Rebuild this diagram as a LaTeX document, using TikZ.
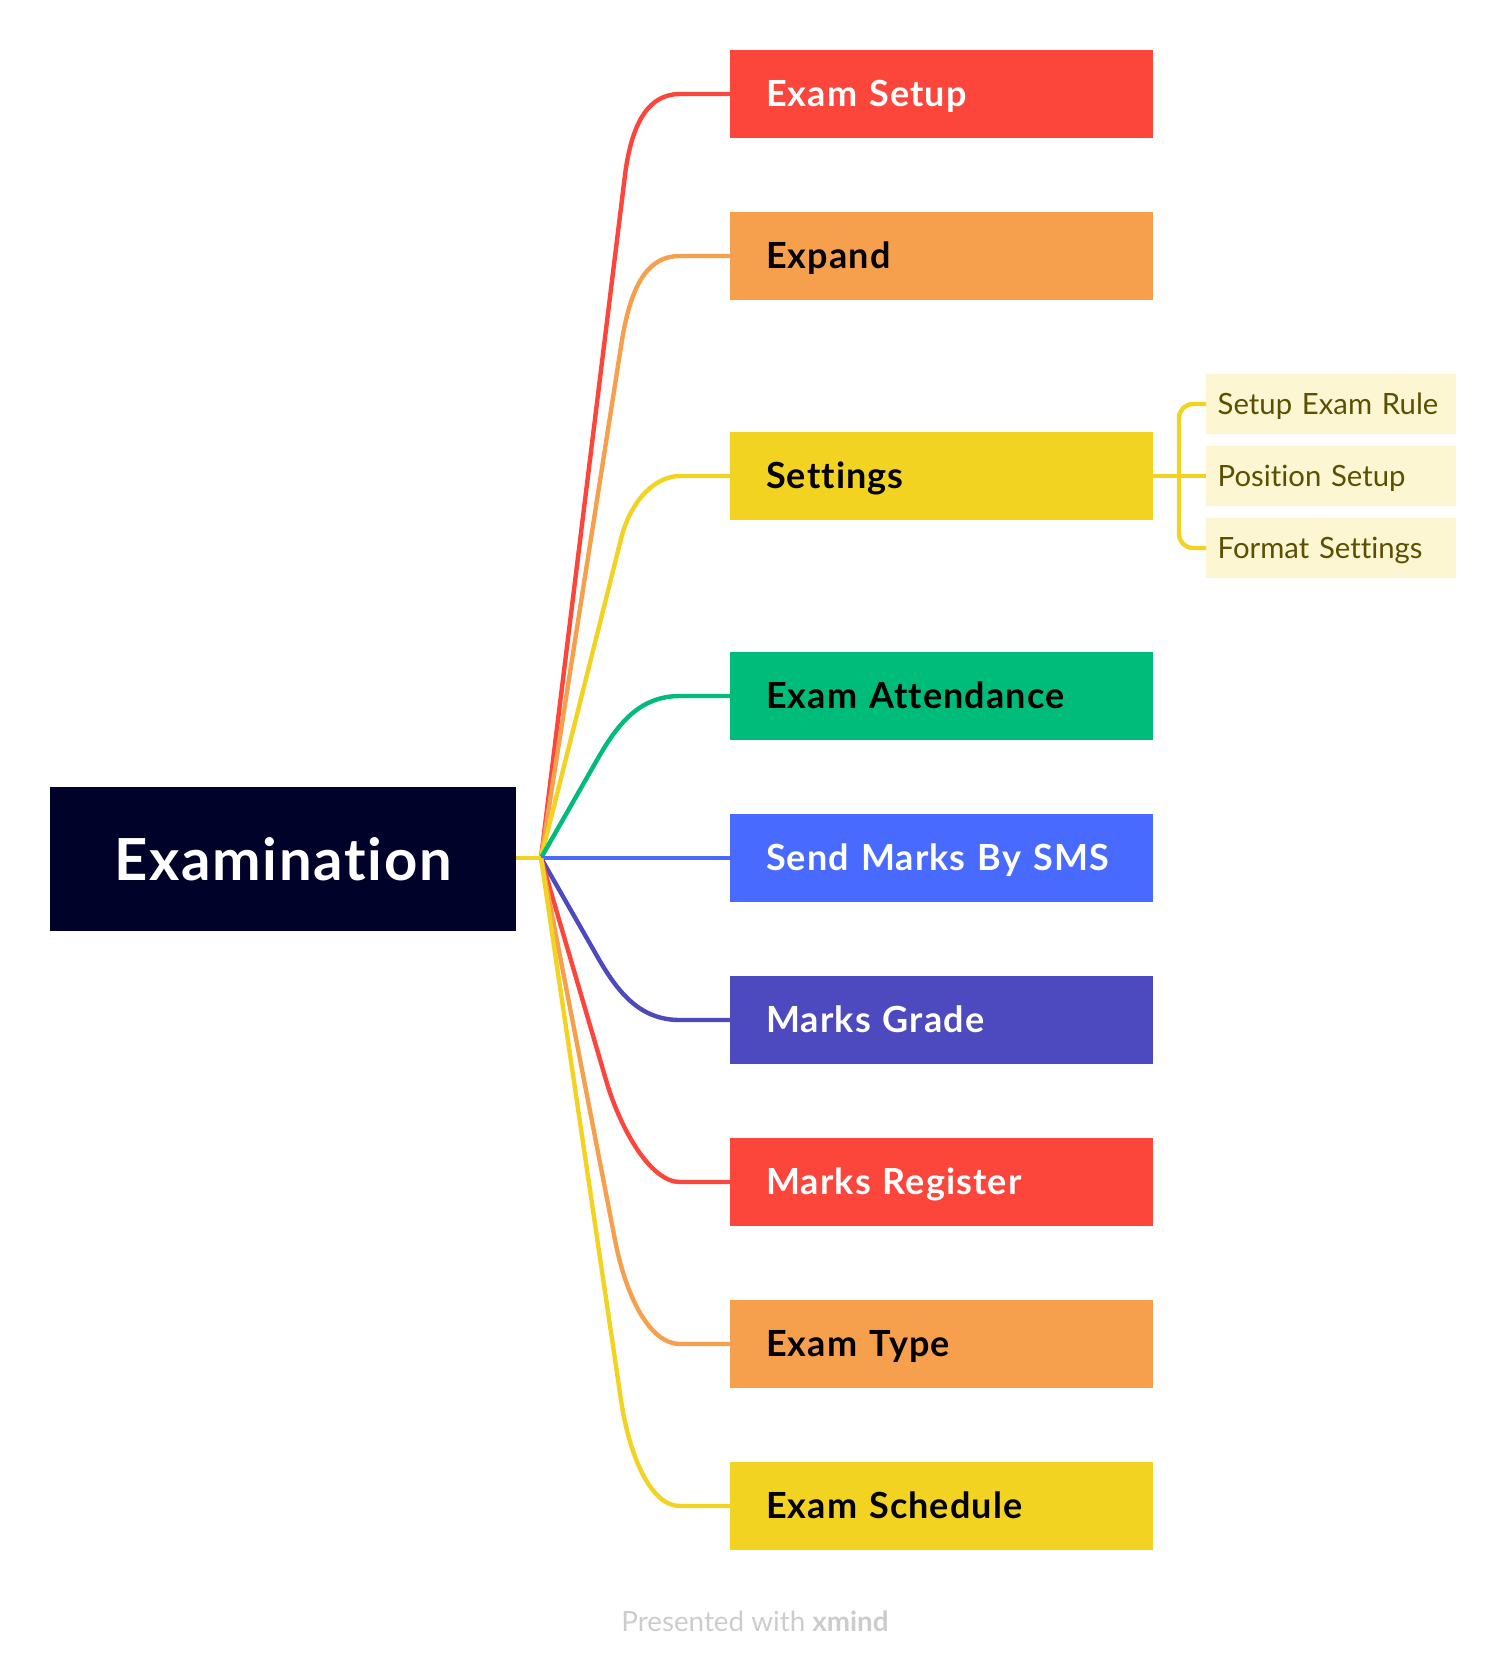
\documentclass[tikz,border=0pt]{standalone}
\usepackage{fontspec}
\setmainfont{Lato}
\newfontfamily\headf[UprightFont=* Bold,LetterSpace=3,WordSpace=0.8,Ligatures=NoCommon]{Lato}
\newfontfamily\lightf[Ligatures=NoCommon]{Lato}
\definecolor{cRed}{HTML}{FC453B}
\definecolor{cOrange}{HTML}{F6A04D}
\definecolor{cYellow}{HTML}{F3D321}
\definecolor{cGreen}{HTML}{00BC7B}
\definecolor{cBlue}{HTML}{486AFF}
\definecolor{cPurple}{HTML}{4D49BE}
\definecolor{cRoot}{HTML}{000229}
\definecolor{cChild}{HTML}{FDF6D3}
\definecolor{cChildText}{HTML}{5C5000}
\definecolor{cFoot}{HTML}{CCCCCC}
\tikzset{
  x=1pt,y=-1pt,
  topic/.style={rectangle,anchor=west,minimum width=423pt,minimum height=88pt,inner xsep=36pt,inner ysep=0pt,text width=351pt,text height=28pt,text depth=4pt,align=left,font=\headf\fontsize{36}{40}\selectfont},
  child/.style={rectangle,anchor=west,fill=cChild,text=cChildText,minimum width=250pt,minimum height=60pt,inner xsep=11.5pt,inner ysep=0pt,text width=227pt,text height=24pt,text depth=4pt,align=left,font=\lightf\fontsize{29.3}{36}\selectfont},
  link/.style={line width=4.4pt,line join=round},
}
\begin{document}
\begin{tikzpicture}
\useasboundingbox (0,0) rectangle (1506,1670);
\node[rectangle,fill=cRoot,text=white,minimum width=466pt,minimum height=144pt,inner sep=0pt,text height=48pt,text depth=6pt,font=\headf\fontsize{58}{64}\selectfont] (root) at (283,859) {Examination};
\coordinate (hub) at (541,858);
\node[topic,fill=cRed,text=white] (t1) at (730,94) {Exam Setup};
\node[topic,fill=cOrange,text=black] (t2) at (730,256) {Expand};
\node[topic,fill=cYellow,text=black] (t3) at (730,476) {Settings};
\node[topic,fill=cGreen,text=black] (t4) at (730,696) {Exam Attendance};
\node[topic,fill=cBlue,text=white] (t5) at (730,858) {Send Marks By SMS};
\node[topic,fill=cPurple,text=white] (t6) at (730,1020) {Marks Grade};
\node[topic,fill=cRed,text=white] (t7) at (730,1182) {Marks Register};
\node[topic,fill=cOrange,text=black] (t8) at (730,1344) {Exam Type};
\node[topic,fill=cYellow,text=black] (t9) at (730,1506) {Exam Schedule};
\node[child] (c1) at (1206,404) {Setup Exam Rule};
\node[child] (c2) at (1206,476) {Position Setup};
\node[child] (c3) at (1206,548) {Format Settings};
\draw[link,cRed] (hub) -- (625,175) .. controls (632,120) and (650,94) .. (680,94) -- (t1.west);
\draw[link,cOrange] (hub) -- (622,340) .. controls (632,280) and (650,256) .. (680,256) -- (t2.west);
\draw[link,cYellow] (hub) -- (622,535) .. controls (632,500) and (655,476) .. (680,476) -- (t3.west);
\draw[link,cGreen] (hub) -- (597,760) .. controls (618,723) and (640,696) .. (680,696) -- (t4.west);
\draw[link,cBlue] (hub) -- (t5.west);
\draw[link,cPurple] (hub) -- (597,956) .. controls (618,993) and (640,1020) .. (680,1020) -- (t6.west);
\draw[link,cRed] (hub) -- (606,1080) .. controls (620,1128) and (650,1182) .. (680,1182) -- (t7.west);
\draw[link,cOrange] (hub) -- (615,1240) .. controls (626,1297) and (650,1344) .. (680,1344) -- (t8.west);
\draw[link,cYellow] (hub) -- (621,1400) .. controls (629,1454) and (650,1506) .. (680,1506) -- (t9.west);
\draw[link,cYellow] (root.east |- hub) -- (hub);
\coordinate (jn) at (1179,476);
\draw[link,cYellow] (t3.east) -- (c2.west);
\draw[link,cYellow,rounded corners=14pt] (c1.west) -| (jn) |- (c3.west);
\node[inner sep=0pt,text=cFoot,font=\lightf\fontsize{27.8}{32}\selectfont] (foot) at (755,1621) {Presented with \textbf{xmind}};
\end{tikzpicture}
\end{document}
